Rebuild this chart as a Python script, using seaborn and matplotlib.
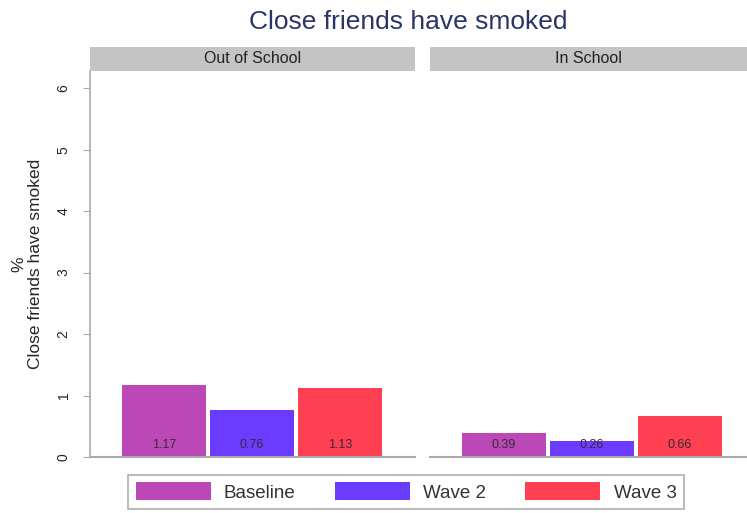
import numpy as np
import pandas as pd
import matplotlib
matplotlib.use("Agg")
import matplotlib.pyplot as plt
import seaborn as sns
from matplotlib.patches import Patch

# Data
panels = ["Out of School", "In School"]
waves = ["Baseline", "Wave 2", "Wave 3"]
out_school = [1.17, 0.76, 1.13]
in_school = [0.39, 0.26, 0.66]
colors = ["#BC48B8", "#6B3BFF", "#FF3F52"]

df = pd.DataFrame({
    "panel": np.repeat(panels, len(waves)),
    "wave": waves * len(panels),
    "value": out_school + in_school,
})

sns.set_style("white")
plt.rcParams['font.family'] = ['Liberation Sans', 'DejaVu Sans']

W, H = 747, 513
fig = plt.figure(figsize=(W / 100, H / 100), dpi=100)

# panel boxes in pixels: (left, right)
boxes = [(90, 415), (430, 747)]
top_px, bottom_px = 71, 457
strip_top = 47
for i, (panel, (l, r)) in enumerate(zip(panels, boxes)):
    ax = fig.add_axes([l / W, 1 - bottom_px / H, (r - l) / W, (bottom_px - top_px) / H])
    sub = df[df["panel"] == panel]
    sns.barplot(data=sub, x="wave", y="value", hue="wave", palette=colors,
                order=waves, hue_order=waves, width=0.95, saturation=1,
                legend=False, ax=ax)
    for bar, val in zip(ax.patches, sub["value"]):
        bar.set_edgecolor("none")
        ax.text(bar.get_x() + bar.get_width() / 2, 0.2, f"{val:.2f}",
                ha="center", va="center", fontsize=9, color="#3a2a3a")
    ax.set_ylim(0, 6.28)
    ax.set_xlim(-0.84, 2.85 if i == 0 else 2.76)
    ax.set_xlabel("")
    ax.set_ylabel("")
    ax.set_xticks([])
    for s in ["top", "right"]:
        ax.spines[s].set_visible(False)
    ax.spines["bottom"].set_color("#aaaaaa")
    ax.spines["bottom"].set_linewidth(1.5)
    if i == 0:
        ax.spines["left"].set_color("#aaaaaa")
        ax.spines["left"].set_linewidth(1.2)
        ax.set_yticks(range(0, 7))
        ax.tick_params(axis="y", length=5, color="#aaaaaa", labelsize=10,
                       labelrotation=90, left=True, pad=9)
        for t in ax.get_yticklabels():
            t.set_va("center")
        ax.set_ylabel("%\nClose friends have smoked", fontsize=12.5, labelpad=10,
                      linespacing=1.1)
    else:
        ax.spines["left"].set_visible(False)
        ax.set_yticks([])
    # strip
    sax = fig.add_axes([l / W, 1 - top_px / H, (r - l) / W, (top_px - strip_top) / H])
    sax.set_facecolor("#c4c4c4")
    sax.set_xticks([])
    sax.set_yticks([])
    for s in sax.spines.values():
        s.set_visible(False)
    sax.text(0.5, 0.5, panel, ha="center", va="center", fontsize=11.5, color="#222222",
             transform=sax.transAxes)

fig.text(408 / W, 1 - 22 / H, "Close friends have smoked", ha="center", va="center",
         fontsize=19, color="#2a3466")

handles = [Patch(facecolor=c, edgecolor="none", label=w) for c, w in zip(colors, waves)]
leg = fig.legend(handles=handles, loc="center", bbox_to_anchor=(406 / W, 1 - 492 / H),
                 ncol=3, frameon=True, fontsize=13.5, handlelength=4, handleheight=1.05,
                 columnspacing=2.1, handletextpad=0.7, borderpad=0.4, fancybox=False)
leg.get_frame().set_edgecolor("#999999")
leg.get_frame().set_linewidth(1.2)
for t in leg.get_texts():
    t.set_color("#333333")

fig.savefig("out.png", dpi=100)
